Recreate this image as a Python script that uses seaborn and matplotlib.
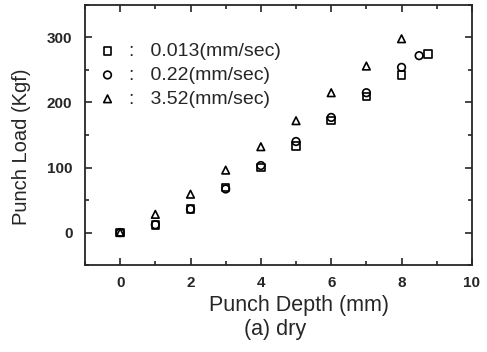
import pandas as pd
import matplotlib
matplotlib.use("Agg")
import matplotlib.pyplot as plt
import seaborn as sns
from matplotlib.ticker import MultipleLocator

# values
depth_slow = [0, 1, 2, 3, 4, 5, 6, 7, 8, 8.75]
load_slow = [0, 12, 36, 69, 100, 133, 172, 209, 242, 275]
depth_mid = [0, 1, 2, 3, 4, 5, 6, 7, 8, 8.5]
load_mid = [0, 12, 36, 67, 103, 140, 177, 215, 254, 272]
depth_fast = [0, 1, 2, 3, 4, 5, 6, 7, 8]
load_fast = [0, 28, 59, 96, 132, 172, 215, 256, 298]

labels = [":   0.013(mm/sec)", ":   0.22(mm/sec)", ":   3.52(mm/sec)"]
markers = ["s", "o", "^"]

sns.set_style("ticks")
plt.rcParams['font.family'] = ['Liberation Sans', 'DejaVu Sans']

fig = plt.figure(figsize=(4.87, 3.52), dpi=100)
ax = fig.add_axes([0.1745, 0.247, 0.7945, 0.739])

series = [(depth_slow, load_slow), (depth_mid, load_mid), (depth_fast, load_fast)]
for (xs, ys), lab, mk in zip(series, labels, markers):
    df = pd.DataFrame({'Depth': xs, 'Load': ys})
    sns.scatterplot(data=df, x='Depth', y='Load', marker=mk, s=30,
                    color='black', linewidth=1.2, label=lab, ax=ax, legend=False)

# open markers
for coll in ax.collections:
    coll.set_facecolor('none')
    coll.set_edgecolor('black')

ax.set_xlim(-1, 10)
ax.set_ylim(-50, 350)
ax.xaxis.set_major_locator(MultipleLocator(2))
ax.xaxis.set_minor_locator(MultipleLocator(1))
ax.yaxis.set_major_locator(MultipleLocator(100))
ax.yaxis.set_minor_locator(MultipleLocator(50))
ax.tick_params(which='both', direction='in', top=True, right=True, width=1.2)
ax.tick_params(which='major', length=5, labelsize=11)
ax.tick_params(axis='x', which='major', pad=8)
ax.tick_params(axis='y', which='major', pad=9)
ax.tick_params(which='minor', length=3)
for lbl in ax.get_xticklabels() + ax.get_yticklabels():
    lbl.set_fontweight('bold')
for sp in ax.spines.values():
    sp.set_linewidth(1.3)

ax.set_xlabel('')
ax.set_ylabel('')
fig.text(22 / 487, 1 - 147 / 352, 'Punch Load (Kgf)', fontsize=14.5,
         rotation=90, ha='center', va='center')
fig.text(0.614, 1 - 306 / 352, 'Punch Depth (mm)', fontsize=15.5,
         ha='center', va='center')
fig.text(0.565, 1 - 329 / 352, '(a) dry', fontsize=15.5,
         ha='center', va='center')

ax.legend(loc='upper left', frameon=False, fontsize=14, handletextpad=0.6,
          labelspacing=0.32, borderaxespad=0.0, handlelength=1.0,
          bbox_to_anchor=(0.013, 0.885))

fig.savefig('out.png', dpi=100)
